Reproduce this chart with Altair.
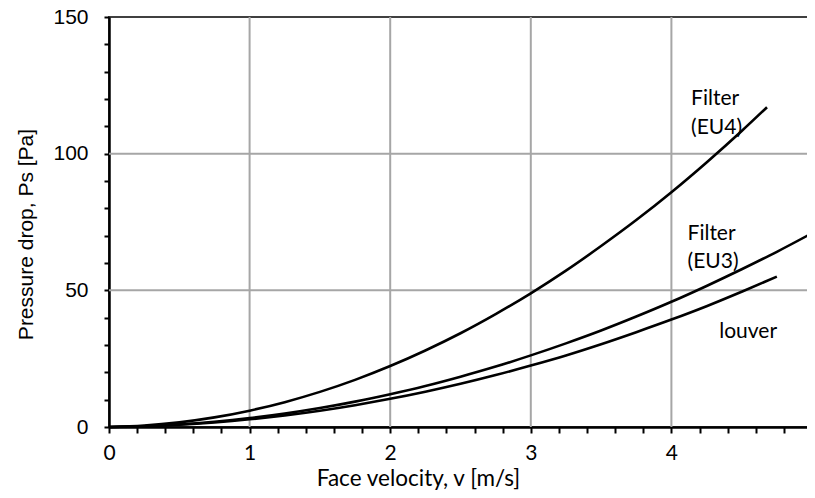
import altair as alt
import pandas as pd

# Series values
v_eu4 = [0, 0.25, 0.5, 0.75, 1.0, 1.25, 1.5, 1.75, 2.0, 2.25, 2.5, 2.75, 3.0, 3.25, 3.5, 3.75, 4.0, 4.25, 4.5, 4.68]
p_eu4 = [0, 0.52, 1.70, 3.52, 5.98, 9.09, 12.85, 17.25, 22.3, 28.0, 34.3, 41.3, 48.9, 57.2, 66.2, 75.7, 85.9, 96.8, 108.3, 117.0]

v_eu3 = [0, 0.25, 0.5, 0.75, 1.0, 1.25, 1.5, 1.75, 2.0, 2.25, 2.5, 2.75, 3.0, 3.25, 3.5, 3.75, 4.0, 4.25, 4.5, 4.75, 5.0]
p_eu3 = [0, 0.3, 0.95, 1.94, 3.26, 4.93, 6.94, 9.29, 12.0, 15.0, 18.4, 22.1, 26.2, 30.6, 35.3, 40.4, 45.8, 51.6, 57.7, 64.1, 70.9]

v_louver = [0, 0.25, 0.5, 0.75, 1.0, 1.25, 1.5, 1.75, 2.0, 2.25, 2.5, 2.75, 3.0, 3.25, 3.5, 3.75, 4.0, 4.25, 4.5, 4.75]
p_louver = [0, 0.27, 0.82, 1.67, 2.81, 4.24, 5.97, 7.99, 10.3, 12.9, 15.8, 19.0, 22.5, 26.2, 30.3, 34.7, 39.3, 44.2, 49.5, 55.0]

# Curve annotations
lab_text = ["Filter", "(EU4)", "Filter", "(EU3)", "louver"]
lab_v = [4.14, 4.14, 4.115, 4.115, 4.34]
lab_p = [117.9, 107.2, 68.5, 58.2, 32.6]

# Tick and grid values
x_ticks = [round(i * 0.2, 1) for i in range(26)]
y_ticks = list(range(0, 151, 10))
x_grid = [1, 2, 3, 4]
y_grid = [50, 100]

rows = []
for name, vs, ps in [("EU4", v_eu4, p_eu4), ("EU3", v_eu3, p_eu3), ("louver", v_louver, p_louver)]:
    for a, b in zip(vs, ps):
        rows.append({"series": name, "v": a, "p": b})
df = pd.DataFrame(rows)
labels = pd.DataFrame({"text": lab_text, "v": lab_v, "p": lab_p})

x_scale = alt.Scale(domain=[0, 5], nice=False)
y_scale = alt.Scale(domain=[0, 150], nice=False)

x_axis = alt.Axis(
    values=x_ticks,
    labelExpr="abs(datum.value - round(datum.value)) < 0.001 ? format(datum.value, 'd') : ''",
    labelOverlap=False,
    title="Face velocity, v [m/s]",
    titleFont="Lato", titleFontSize=22.5, titleFontWeight="normal", titleColor="black",
    titleX=309, titleY=58, titleBaseline="alphabetic", titleAlign="center",
    labelFont="Lato", labelFontSize=21, labelColor="black",
    labelBaseline="alphabetic", labelPadding=26, tickSize=6, labelFlush=False,
    domainColor="black", domainWidth=2.5, tickColor="black", tickWidth=2,
    grid=False,
)
y_axis = alt.Axis(
    values=y_ticks,
    labelExpr="datum.value % 50 == 0 ? datum.value : ''",
    labelOverlap=False,
    title="Pressure drop, Ps [Pa]",
    titleFont="Liberation Sans", titleFontSize=21, titleFontWeight="normal", titleColor="black",
    titleX=-77, titleY=217, titleBaseline="alphabetic", titleAlign="center", titleAngle=270,
    labelFont="Liberation Sans", labelFontSize=21, labelColor="black",
    labelBaseline="middle", labelPadding=16, tickSize=5, labelFlush=False,
    domainColor="black", domainWidth=2.5, tickColor="black", tickWidth=2,
    grid=False,
)

grid_color = "#a6a6a6"
vgrid = alt.Chart(pd.DataFrame({"g": x_grid})).mark_rule(color=grid_color, strokeWidth=2).encode(
    x=alt.X("g:Q", scale=x_scale, axis=x_axis)
)
hgrid = alt.Chart(pd.DataFrame({"g": y_grid})).mark_rule(color=grid_color, strokeWidth=2).encode(
    y=alt.Y("g:Q", scale=y_scale, axis=y_axis)
)

lines = alt.Chart(df).mark_line(color="black", strokeWidth=2.6, interpolate="monotone").encode(
    x=alt.X("v:Q", scale=x_scale, axis=x_axis),
    y=alt.Y("p:Q", scale=y_scale, axis=y_axis),
    detail="series:N",
)

texts = alt.Chart(labels).mark_text(
    font="Lato", fontSize=21, align="left", baseline="alphabetic", color="black"
).encode(
    x=alt.X("v:Q", scale=x_scale, axis=x_axis),
    y=alt.Y("p:Q", scale=y_scale, axis=y_axis),
    text="text:N",
)

chart = alt.layer(vgrid, hgrid, lines, texts).properties(
    width=703, height=410,
    autosize=alt.AutoSizeParams(type="none"),
    padding={"left": 101, "top": 9, "right": -5, "bottom": 63},
).configure_view(stroke="#404040", strokeWidth=2)

chart.save("out.html", embed_options={"renderer": "svg", "actions": False})
